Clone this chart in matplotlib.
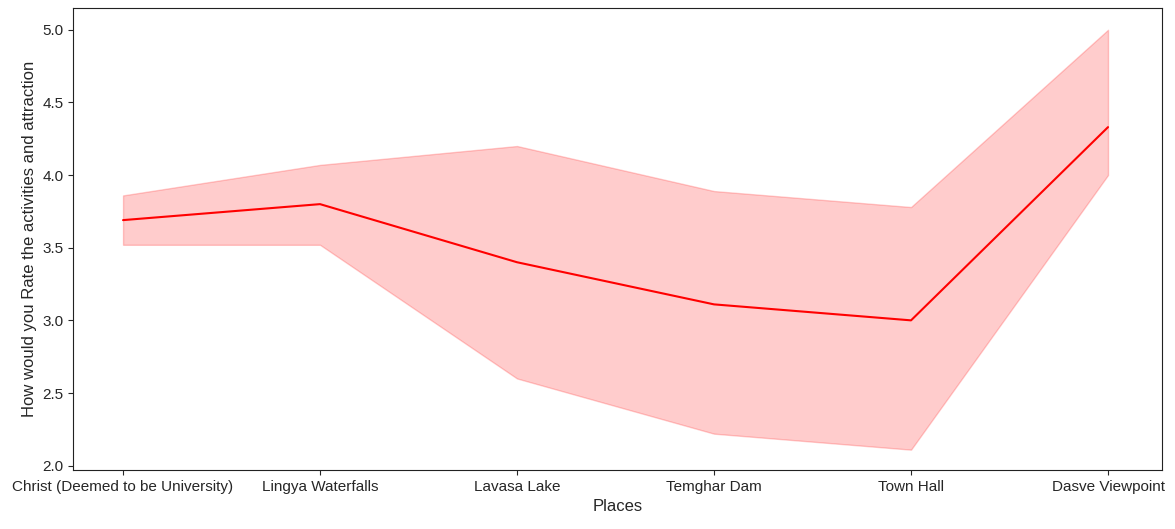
import matplotlib
matplotlib.use("Agg")
import matplotlib.pyplot as plt
import seaborn as sns

places = [
    "Christ (Deemed to be University)",
    "Lingya Waterfalls",
    "Lavasa Lake",
    "Temghar Dam",
    "Town Hall",
    "Dasve Viewpoint",
]
mean_rating = [3.69, 3.80, 3.40, 3.11, 3.00, 4.33]
ci_low = [3.52, 3.52, 2.60, 2.22, 2.11, 4.00]
ci_high = [3.86, 4.07, 4.20, 3.89, 3.78, 5.00]

sns.set_style("ticks")
plt.rcParams["font.family"] = ["Liberation Sans", "DejaVu Sans"]
plt.rcParams["font.size"] = 11
fig = plt.figure(figsize=(11.75, 5.29), dpi=100)
ax = fig.add_axes([73 / 1175, 59 / 529, 1089 / 1175, 462 / 529])
x = list(range(len(places)))
ax.fill_between(x, ci_low, ci_high, color="red", alpha=0.2, linewidth=1)
ax.plot(x, mean_rating, color="red", linewidth=1.5)
ax.set_xticks(x, places)
ax.set_yticks([2.0, 2.5, 3.0, 3.5, 4.0, 4.5, 5.0])
ax.set_xlim(-0.254, 5.274)
ax.set_ylim(1.97, 5.15)
ax.set_xlabel("Places", fontsize=12)
ax.set_ylabel("How would you Rate the activities and attraction", fontsize=12)
for s in ax.spines.values():
    s.set_color("#222222")
fig.savefig("out.png", dpi=100)
